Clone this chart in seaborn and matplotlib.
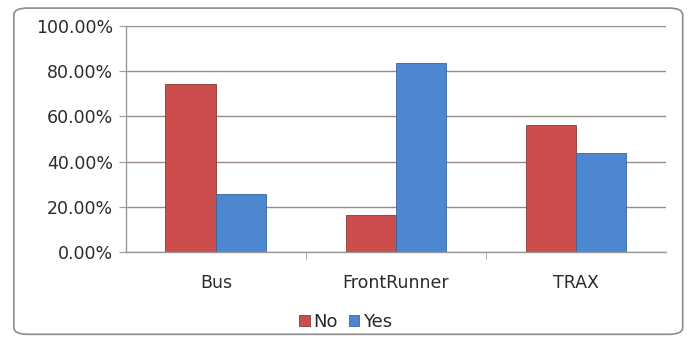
import numpy as np
import pandas as pd
import matplotlib
matplotlib.use("Agg")
import matplotlib.pyplot as plt
import seaborn as sns
from matplotlib.patches import FancyBboxPatch
from matplotlib.ticker import PercentFormatter

# ── Data ──────────────────────────────────────────────────────────────────────
modes   = ["Bus", "FrontRunner", "TRAX"]
answers = ["No", "Yes"]
no_pct  = [74.2, 16.3, 56.4]
yes_pct = [25.8, 83.7, 43.6]
y_ticks = [0, 20, 40, 60, 80, 100]

df = pd.DataFrame({
    "mode":   modes * 2,
    "answer": ["No"] * len(modes) + ["Yes"] * len(modes),
    "pct":    no_pct + yes_pct,
})

sns.set_style("white")
plt.rcParams["font.family"] = ["DejaVu Sans"]

fig = plt.figure(figsize=(6.91, 3.37), dpi=100)
ax = fig.add_axes([0.182, 0.252, 0.782, 0.671])

palette = {"No": "#CC4E4C", "Yes": "#4D87CF"}
sns.barplot(data=df, x="mode", y="pct", hue="answer", hue_order=answers,
            palette=palette, width=0.56, ax=ax, edgecolor="#8a3a38",
            linewidth=0.6, saturation=1)
for bar in ax.patches:
    if abs(bar.get_facecolor()[2] - 0.81) < 0.05:
        bar.set_edgecolor("#3a669c")

ax.set_ylim(0, 100)
ax.set_yticks(y_ticks)
ax.yaxis.set_major_formatter(PercentFormatter(decimals=2))
ax.set_xlim(-0.5, 2.5)
ax.yaxis.grid(True, color="#9a8a85", linewidth=1.0)
ax.set_axisbelow(True)
ax.set_xlabel("")
ax.set_ylabel("")

for s in ["top", "right"]:
    ax.spines[s].set_visible(False)
for s in ["left", "bottom"]:
    ax.spines[s].set_color("#9a9a9a")
    ax.spines[s].set_linewidth(1.0)

ax.tick_params(axis="y", length=5, color="#9a9a9a", labelsize=12.5,
               labelcolor="#2a2a2a", left=True, pad=4)
ax.tick_params(axis="x", length=0, labelsize=12.5, labelcolor="#2a2a2a", pad=16)
# small ticks between categories on the x axis
ax.set_xticks([0.5, 1.5], minor=True)
ax.tick_params(axis="x", which="minor", length=5, color="#9a9a9a", bottom=True)

handles, labels = ax.get_legend_handles_labels()
ax.get_legend().remove()
fig.legend(handles, labels, loc="center", bbox_to_anchor=(0.5, 0.045),
           ncol=2, frameon=False, fontsize=13, handlelength=0.6, handleheight=0.6,
           handletextpad=0.2, columnspacing=0.6, labelcolor="#2a2a2a")

border = FancyBboxPatch((0.02, 0.008), 0.968, 0.968, transform=fig.transFigure,
                        boxstyle="round,pad=0,rounding_size=0.02",
                        facecolor="none", edgecolor="#8c8c8c", linewidth=1.2)
fig.patches.append(border)

fig.savefig("out.png", dpi=100)
